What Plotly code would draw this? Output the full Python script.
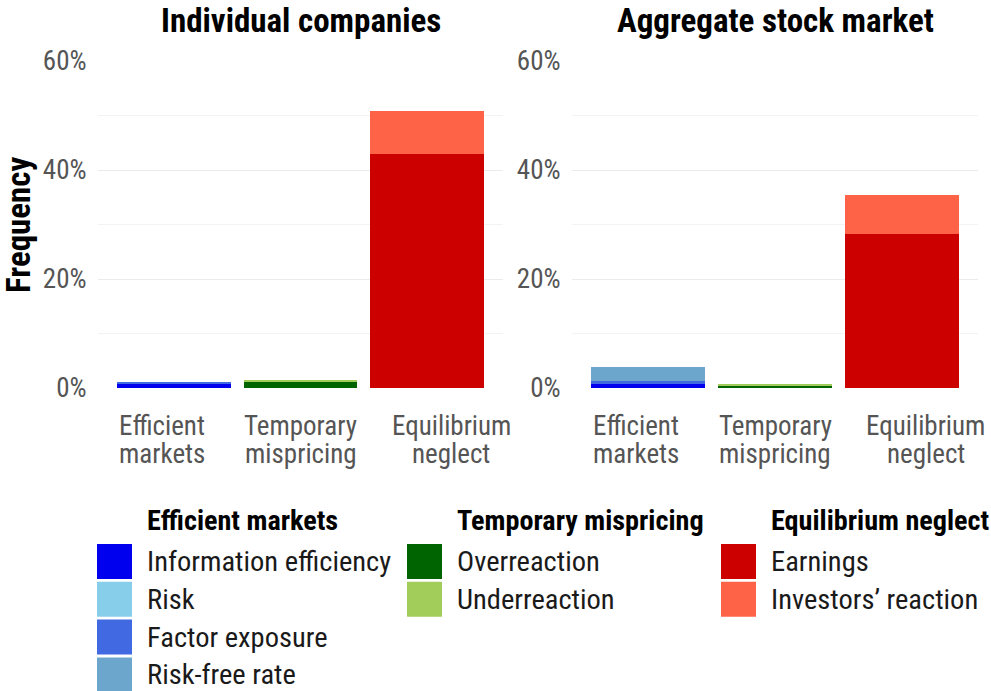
import plotly.graph_objects as go

# ---- data ----
categories = ["Efficient markets", "Temporary mispricing", "Equilibrium neglect"]
cat_line1 = ["Efficient", "Temporary", "Equilibrium"]
cat_line2 = ["markets", "mispricing", "neglect"]
panels = ["Individual companies", "Aggregate stock market"]

groups = ["Efficient markets", "Temporary mispricing", "Equilibrium neglect"]
group_items = {
    "Efficient markets": ["Information efficiency", "Risk", "Factor exposure", "Risk-free rate"],
    "Temporary mispricing": ["Overreaction", "Underreaction"],
    "Equilibrium neglect": ["Earnings", "Investors\u2019 reaction"],
}
item_colors = {
    "Information efficiency": "#0000EE",
    "Risk": "#87CEEB",
    "Factor exposure": "#4169E1",
    "Risk-free rate": "#6CA6CD",
    "Overreaction": "#006400",
    "Underreaction": "#A2CD5A",
    "Earnings": "#CD0000",
    "Investors\u2019 reaction": "#FF6347",
}
# frequency (fraction) per panel
individual_values = {
    "Information efficiency": 0.009, "Risk": 0.0, "Factor exposure": 0.002, "Risk-free rate": 0.0,
    "Overreaction": 0.011, "Underreaction": 0.002,
    "Earnings": 0.429, "Investors\u2019 reaction": 0.079,
}
aggregate_values = {
    "Information efficiency": 0.009, "Risk": 0.0, "Factor exposure": 0.003, "Risk-free rate": 0.026,
    "Overreaction": 0.004, "Underreaction": 0.004,
    "Earnings": 0.283, "Investors\u2019 reaction": 0.071,
}
panel_values = [individual_values, aggregate_values]
y_ticks = [0, 0.2, 0.4, 0.6]
y_tick_labels = ["0%", "20%", "40%", "60%"]

FONT = "Roboto Condensed, Liberation Sans Narrow, Roboto, sans-serif"
W, H = 991, 691

def px(x):
    return x / W

def py(y):
    return 1 - y / H

fig = go.Figure()
for p, vals in enumerate(panel_values):
    xa = "x" if p == 0 else "x2"
    ya = "y" if p == 0 else "y2"
    for gi, g in enumerate(groups):
        for item in group_items[g]:
            fig.add_trace(go.Bar(
                x=[categories[gi]], y=[vals[item]], name=item,
                marker=dict(color=item_colors[item], line=dict(width=0)),
                width=0.9, xaxis=xa, yaxis=ya, showlegend=False,
            ))

axis_common = dict(showline=False, zeroline=False)
xdom = [[px(98), px(503)], [px(572), px(978)]]
ydom = [py(388), py(61)]
TICK_FS = 27
TICK_COLOR = "#555555"
layout = dict(
    width=W, height=H, barmode="stack", bargap=0,
    margin=dict(l=0, r=0, t=0, b=0),
    plot_bgcolor="white", paper_bgcolor="white",
    font=dict(family=FONT, color="#000000"),
    showlegend=False,
)
for p in range(2):
    sfx = "" if p == 0 else "2"
    layout["xaxis" + sfx] = dict(
        domain=xdom[p], type="category", categoryorder="array", categoryarray=categories,
        range=[-0.6, 2.6], showgrid=False, showticklabels=False, ticks="",
        automargin=False, anchor="y" + sfx, fixedrange=True, **axis_common,
    )
    layout["yaxis" + sfx] = dict(
        domain=ydom, range=[0, 0.6], tickvals=y_ticks, ticktext=y_tick_labels,
        showgrid=True, gridcolor="#EBEBEB", gridwidth=1.4,
        minor=dict(tickvals=[0.1, 0.3, 0.5], showgrid=True, gridcolor="#F3F3F3", gridwidth=0.8),
        ticks="outside", ticklen=5, tickcolor="white",
        tickfont=dict(size=TICK_FS, color=TICK_COLOR, family=FONT), automargin=False,
        anchor="x" + sfx, fixedrange=True, **axis_common,
    )
fig.update_layout(**layout)

annotations = []
# category labels (two lines, as in the reference)
label_shift = [-12, 0, 24]
for p in range(2):
    xr = "x" if p == 0 else "x2"
    for ci, c in enumerate(categories):
        for line_text, ly in ((cat_line1[ci], 426), (cat_line2[ci], 454)):
            annotations.append(dict(
                text=line_text, x=c, y=py(ly), xref=xr, yref="paper",
                xshift=label_shift[ci],
                showarrow=False, xanchor="center", yanchor="middle",
                font=dict(size=TICK_FS, color=TICK_COLOR, family=FONT),
            ))
# panel titles
for p, t in enumerate(panels):
    annotations.append(dict(
        text="<b>%s</b>" % t, x=(xdom[p][0] + xdom[p][1]) / 2, y=py(20),
        xref="paper", yref="paper", showarrow=False, xanchor="center", yanchor="middle",
        font=dict(size=33, family=FONT, color="#000000"),
    ))
# y-axis title
annotations.append(dict(
    text="<b>Frequency</b>", x=px(18), y=py(225), xref="paper", yref="paper",
    showarrow=False, textangle=-90, xanchor="center", yanchor="middle",
    font=dict(size=33, family=FONT, color="#000000"),
))

# manual legend (three columns, each with a bold title)
shapes = []
col_left = [97, 407, 721]
title_y = 520
row_y0 = 561.5
row_step = 37.8
sw = 35
for gi, g in enumerate(groups):
    x0 = col_left[gi]
    annotations.append(dict(
        text="<b>%s</b>" % g, x=px(x0 + 48), y=py(title_y), xref="paper", yref="paper",
        showarrow=False, xanchor="left", yanchor="middle",
        font=dict(size=28.2, family=FONT, color="#000000"),
    ))
    for ri, item in enumerate(group_items[g]):
        yc = row_y0 + ri * row_step
        shapes.append(dict(
            type="rect", xref="paper", yref="paper",
            x0=px(x0), x1=px(x0 + sw), y0=py(yc - sw / 2), y1=py(yc + sw / 2),
            fillcolor=item_colors[item], line=dict(width=0),
        ))
        annotations.append(dict(
            text=item, x=px(x0 + 48), y=py(yc), xref="paper", yref="paper",
            showarrow=False, xanchor="left", yanchor="middle",
            font=dict(size=28.5, family=FONT, color="#1a1a1a"),
        ))

fig.update_layout(annotations=annotations, shapes=shapes)
fig.write_html("out.html", config={"displayModeBar": False},
               post_script="document.body.style.margin='0';")
